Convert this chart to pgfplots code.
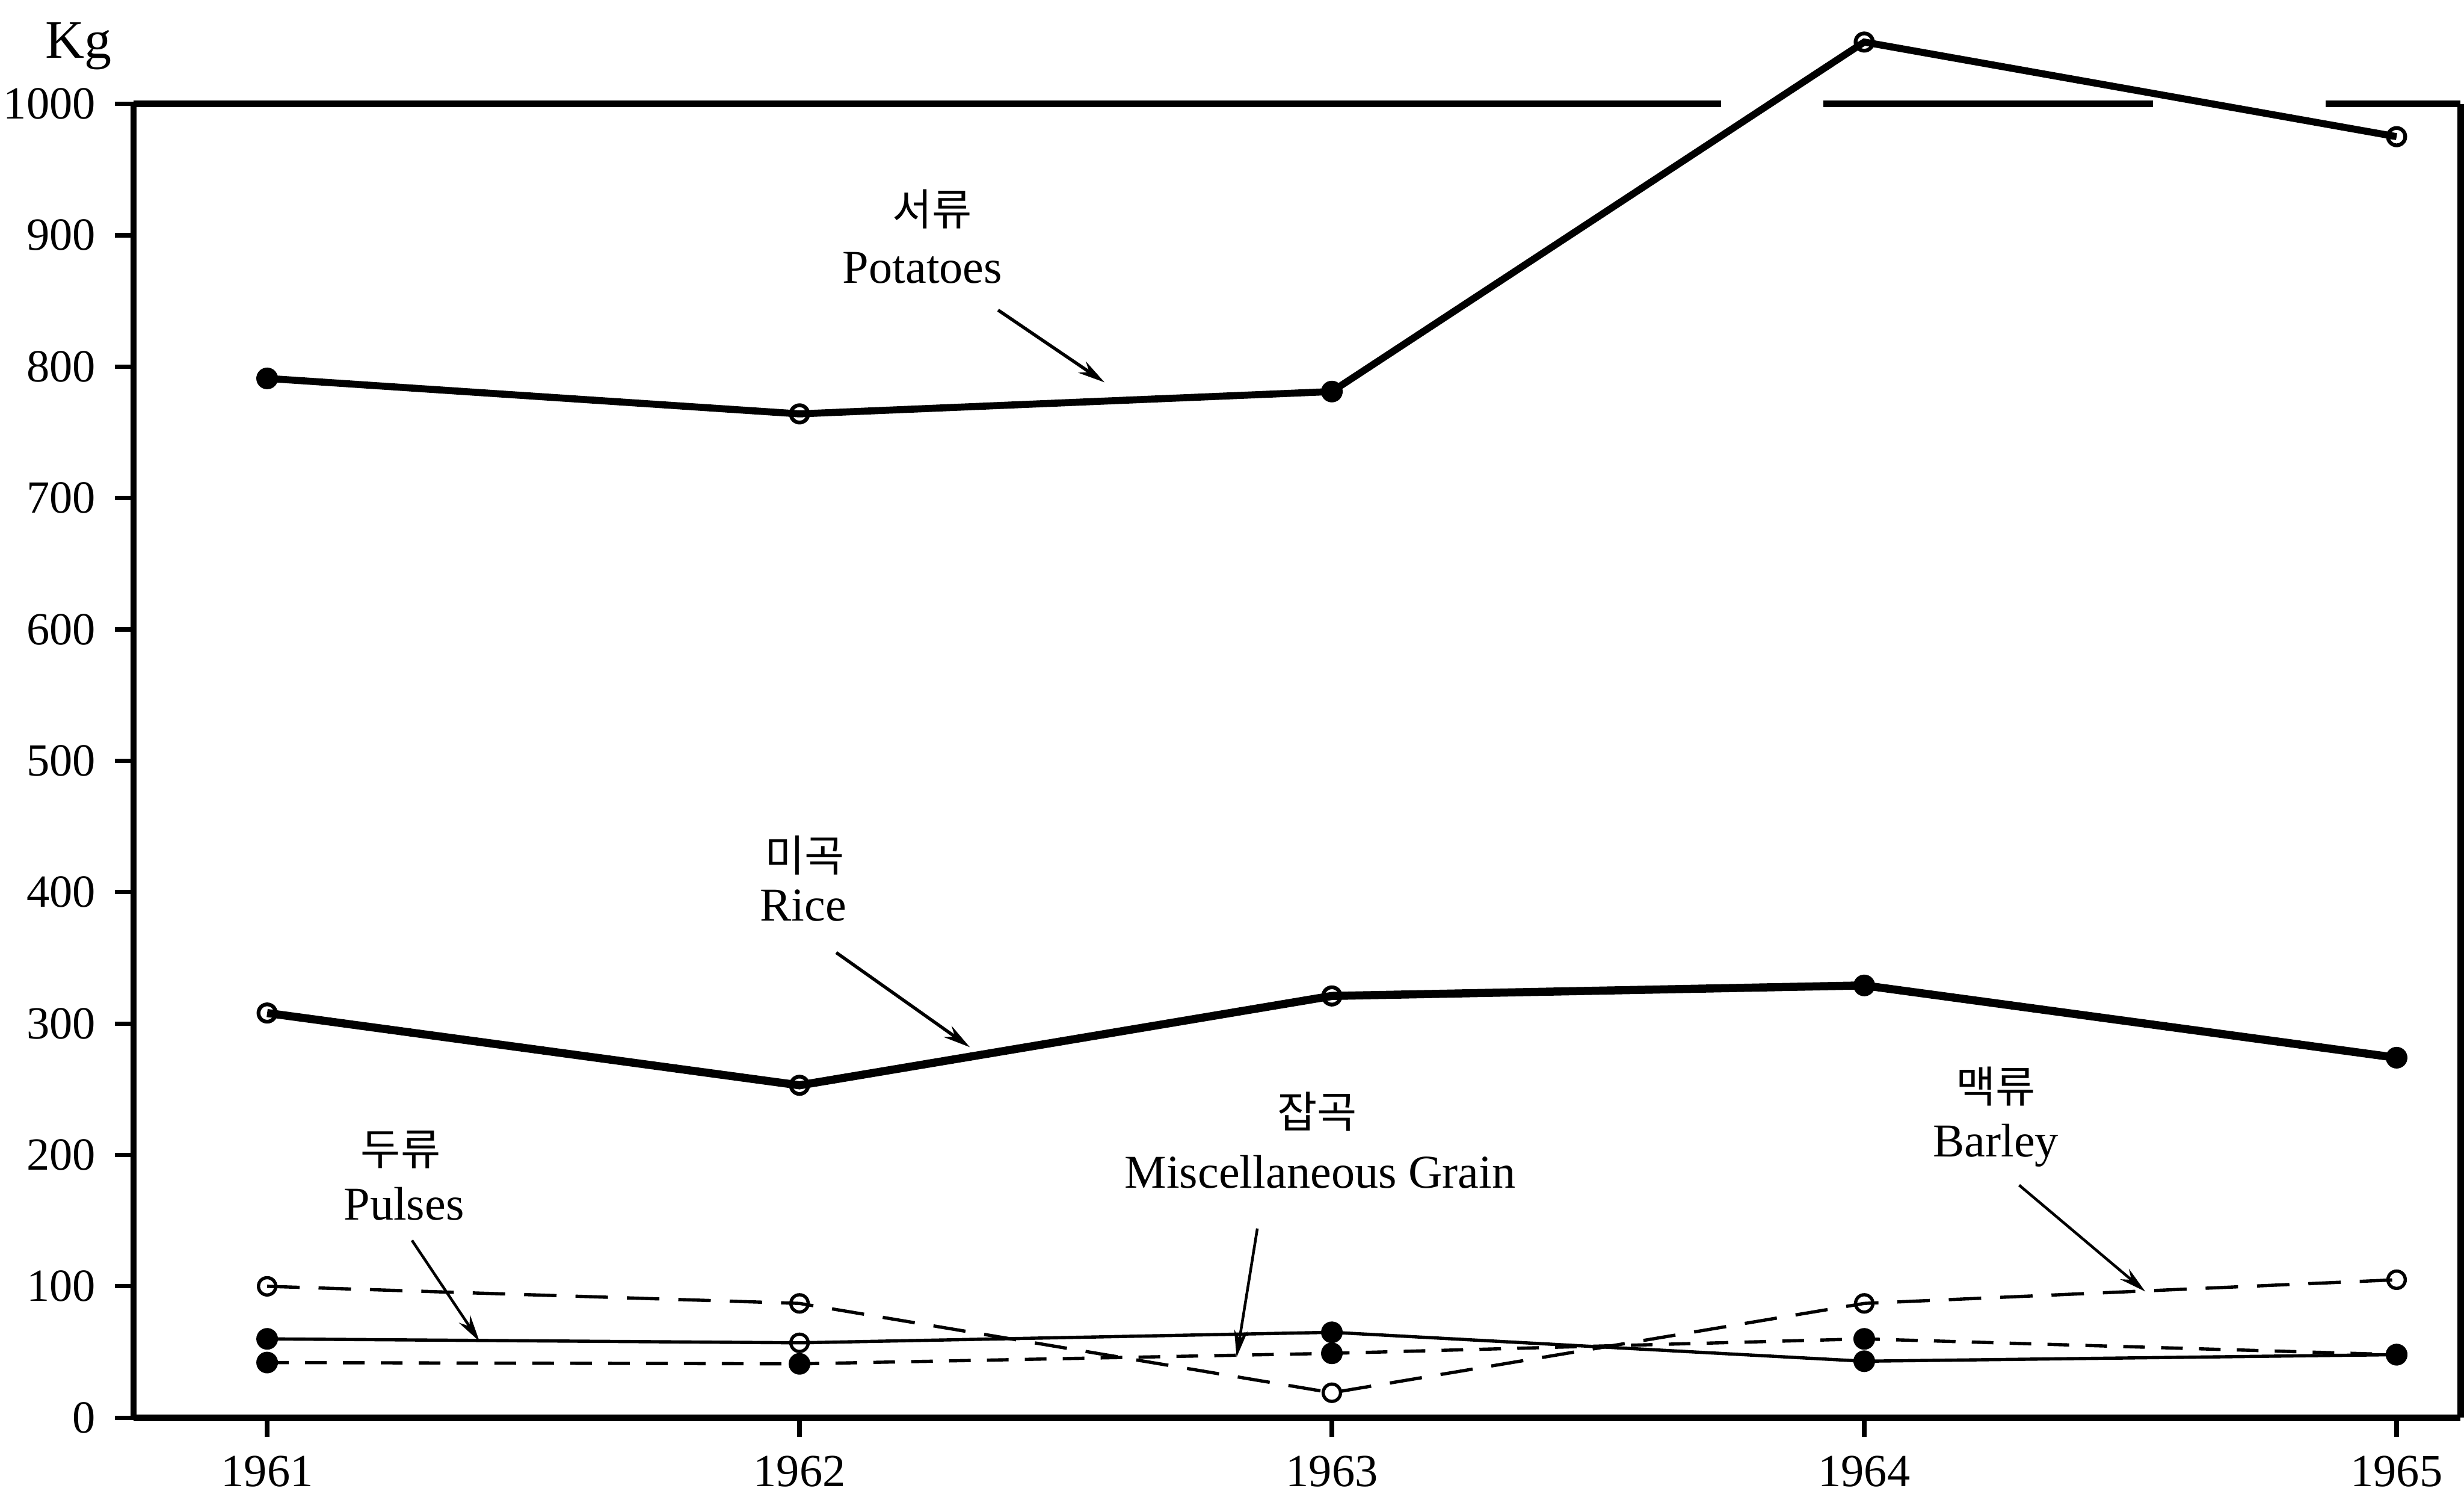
\documentclass[border=0pt]{standalone}
\usepackage{pgfplots}
\pgfplotsset{compat=1.18}
\usetikzlibrary{arrows.meta}
\usepackage{fontspec}
\setmainfont{Liberation Serif}
\newfontfamily\kr{Noto Sans CJK KR}
\begin{document}
\begin{tikzpicture}
\useasboundingbox (-0.867,-0.551) rectangle (15.133,9.204);
\begin{axis}[
  at={(0,0)}, anchor=south west,
  scale only axis, width=15.11cm, height=8.53cm,
  xmin=1960.749, xmax=1965.12, ymin=0, ymax=1000,
  axis x line*=bottom, axis y line*=left,
  axis line style={line width=1.2pt},
  xtick={1961,1962,1963,1964,1965},
  ytick={0,100,...,1000},
  tick align=outside,
  major tick length=3.5pt,
  tick style={line width=0.8pt,black},
  /pgf/number format/assume math mode=true,
  /pgf/number format/1000 sep={},
  tick label style={font=\fontsize{8.5}{9}\selectfont},
  clip=false,
]
% frame: right side and broken top line
\draw[line width=1.2pt] (axis cs:1965.12,0) -- (axis cs:1965.12,1000);
\draw[line width=1.2pt] (axis cs:1960.749,1000) -- (axis cs:1963.731,1000);
\draw[line width=1.2pt] (axis cs:1963.923,1000) -- (axis cs:1964.542,1000);
\draw[line width=1.2pt] (axis cs:1964.867,1000) -- (axis cs:1965.12,1000);

% Potatoes
\addplot[black, line width=1.3pt] coordinates {(1961,791) (1962,764) (1963,781) (1964,1047) (1965,975)};
\addplot[only marks, mark=*, mark size=1.8pt, black] coordinates {(1961,791) (1963,781)};
\addplot[only marks, mark=o, mark size=1.6pt, black, mark options={fill=white, line width=0.7pt}] coordinates {(1962,764) (1964,1047) (1965,975)};

% Rice
\addplot[black, line width=1.5pt] coordinates {(1961,308) (1962,253) (1963,321) (1964,329) (1965,274)};
\addplot[only marks, mark=*, mark size=1.8pt, black] coordinates {(1964,329) (1965,274)};
\addplot[only marks, mark=o, mark size=1.6pt, black, mark options={fill=white, line width=0.7pt}] coordinates {(1961,308) (1962,253) (1963,321)};

% Barley (dashed, open marks)
\addplot[black, line width=0.6pt, dash pattern=on 6pt off 3.5pt] coordinates {(1961,100) (1962,87) (1963,19) (1964,87) (1965,105)};
\addplot[only marks, mark=o, mark size=1.6pt, black, mark options={fill=white, line width=0.6pt, solid}] coordinates {(1961,100) (1962,87) (1963,19) (1964,87) (1965,105)};

% Pulses (thin solid)
\addplot[black, line width=0.6pt] coordinates {(1961,60) (1962,57) (1963,65) (1964,43) (1965,48)};
\addplot[only marks, mark=*, mark size=1.8pt, black] coordinates {(1961,60) (1963,65) (1964,43) (1965,48)};
\addplot[only marks, mark=o, mark size=1.6pt, black, mark options={fill=white, line width=0.6pt}] coordinates {(1962,57)};

% Miscellaneous grain (dashed, filled marks)
\addplot[black, line width=0.6pt, dash pattern=on 4pt off 3pt] coordinates {(1961,42) (1962,41) (1963,49) (1964,60) (1965,48)};
\addplot[only marks, mark=*, mark size=1.8pt, black, mark options={solid}] coordinates {(1961,42) (1962,41) (1963,49) (1964,60) (1965,48)};

% labels
\node[font=\fontsize{10}{11}\selectfont] at (axis cs:1960.646,1044) {Kg};

\node[font=\kr\fontsize{8}{9}\selectfont] at (axis cs:1962.249,920) {서류};
\node[font=\fontsize{8.7}{9}\selectfont] at (axis cs:1962.231,875) {Potatoes};
\draw[line width=0.6pt, -{Stealth[length=5pt,width=2.5pt]}] (axis cs:1962.373,843) -- (axis cs:1962.573,788);

\node[font=\kr\fontsize{8}{9}\selectfont] at (axis cs:1962.01,428) {미곡};
\node[font=\fontsize{8.7}{9}\selectfont] at (axis cs:1962.007,390) {Rice};
\draw[line width=0.6pt, -{Stealth[length=5pt,width=2.5pt]}] (axis cs:1962.069,354) -- (axis cs:1962.32,282);

\node[font=\kr\fontsize{8}{9}\selectfont] at (axis cs:1961.251,204) {두류};
\node[font=\fontsize{8.7}{9}\selectfont] at (axis cs:1961.257,163) {Pulses};
\draw[line width=0.5pt, -{Stealth[length=5pt,width=2.5pt]}] (axis cs:1961.272,135) -- (axis cs:1961.399,58);

\node[font=\kr\fontsize{8}{9}\selectfont] at (axis cs:1962.972,233) {잡곡};
\node[font=\fontsize{8.7}{9}\selectfont] at (axis cs:1962.978,187) {Miscellaneous Grain};
\draw[line width=0.5pt, -{Stealth[length=5pt,width=2.5pt]}] (axis cs:1962.86,144) -- (axis cs:1962.821,46);

\node[font=\kr\fontsize{8}{9}\selectfont] at (axis cs:1964.247,252) {맥류};
\node[font=\fontsize{8.7}{9}\selectfont] at (axis cs:1964.247,207) {Barley};
\draw[line width=0.5pt, -{Stealth[length=5pt,width=2.5pt]}] (axis cs:1964.291,177) -- (axis cs:1964.528,96);
\end{axis}
\end{tikzpicture}
\end{document}
